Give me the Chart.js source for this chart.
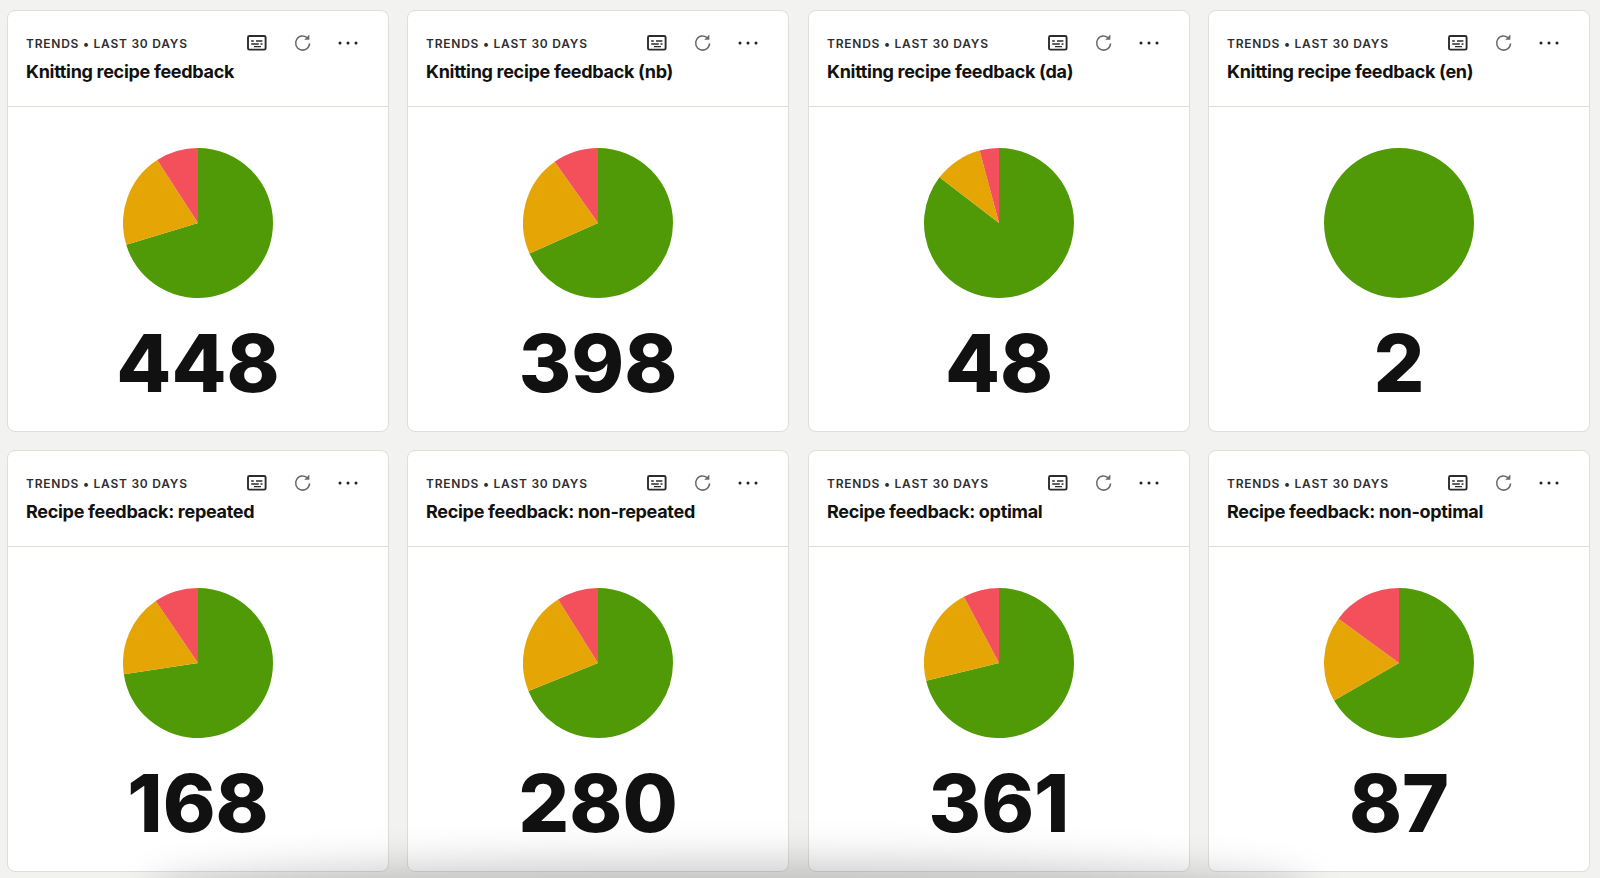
<!DOCTYPE html>
<html><head><meta charset="utf-8">
<script src="https://cdn.jsdelivr.net/npm/chart.js@4"></script>
<style>
html,body{margin:0;padding:0;width:1600px;height:878px;overflow:hidden;background:#f2f2f0;font-family:Inter,"Noto Sans",sans-serif;}
.card{position:absolute;width:382px;height:422px;box-sizing:border-box;background:#fff;border:1px solid #dedfd8;border-radius:8px;overflow:hidden;color:#111;}
.eyebrow{position:absolute;left:18px;top:25px;font-size:12px;font-weight:600;letter-spacing:.76px;color:#2e2e2e;line-height:15px;white-space:nowrap;}
.title{position:absolute;left:18px;top:49px;font-size:18px;font-weight:650;letter-spacing:-.3px;line-height:24px;white-space:nowrap;color:#111;}
.rule{position:absolute;left:0;right:0;top:95px;height:1px;background:#deded7;}
svg.ic{position:absolute;top:23px;}
.pie{position:absolute;left:115px;top:137px;width:150px;height:150px;}
.num{position:absolute;left:0;right:0;top:302px;text-align:center;font-size:80px;font-weight:800;line-height:100px;color:#111;}
#shade{position:absolute;left:180px;top:890px;width:1100px;height:20px;border-radius:50%;box-shadow:0 0 40px 28px rgba(0,0,0,.21);pointer-events:none;}
</style></head><body>
<script>
const eyebrowText = "TRENDS • LAST 30 DAYS";
const titles = ["Knitting recipe feedback","Knitting recipe feedback (nb)","Knitting recipe feedback (da)","Knitting recipe feedback (en)","Recipe feedback: repeated","Recipe feedback: non-repeated","Recipe feedback: optimal","Recipe feedback: non-optimal"];
const totals = [448,398,48,2,168,280,361,87];
const categories = ["Positive","Neutral","Negative"];
const positive = [315,272,41,2,122,193,257,58];
const neutral = [92,87,5,0,30,62,76,16];
const negative = [41,39,2,0,16,25,28,13];
const colors = ["#4f9a06","#e5a504","#f4505c"];
const cardX = [7,407,808,1208];
const cardY = [10,450];

const icons = `
<svg class="ic" style="left:239px" width="20" height="18" viewBox="0 0 20 18"><rect x="1" y="2" width="17.6" height="13.6" rx="1.4" fill="none" stroke="#2c2c2c" stroke-width="1.9"/><path d="M4.2 7h2.6M9 7h6.4M4.2 10h7.6M13.5 10h2M7 12.6h7" stroke="#2c2c2c" stroke-width="1.3" fill="none"/></svg>
<svg class="ic" style="left:285px" width="20" height="18" viewBox="0 0 20 18"><path d="M14.8 4.4A7 7 0 1 0 16.6 9.4" fill="none" stroke="#6a6a6a" stroke-width="1.5"/><path d="M16.4 .6v5.2h-5.2z" fill="#6a6a6a"/></svg>
<svg class="ic" style="left:329px" width="22" height="18" viewBox="0 0 22 18"><circle cx="3" cy="9" r="1.5" fill="#222"/><circle cx="11" cy="9" r="1.5" fill="#222"/><circle cx="19" cy="9" r="1.5" fill="#222"/></svg>`;

titles.forEach((t,i)=>{
  const c=document.createElement('div');c.className='card';
  c.style.left=cardX[i%4]+'px';c.style.top=cardY[i<4?0:1]+'px';
  c.innerHTML=`<div class="eyebrow">${eyebrowText}</div><div class="title">${t}</div>${icons}<div class="rule"></div><div class="pie"><canvas width="150" height="150"></canvas></div><div class="num">${totals[i]}</div>`;
  document.body.appendChild(c);
  new Chart(c.querySelector('canvas'),{type:'pie',data:{labels:categories,datasets:[{data:[positive[i],neutral[i],negative[i]],backgroundColor:colors,borderWidth:0}]},
    options:{responsive:false,animation:false,layout:{padding:0},plugins:{legend:{display:false},tooltip:{enabled:false}}}});
});
const s=document.createElement('div');s.id='shade';document.body.appendChild(s);
</script>
</body></html>
